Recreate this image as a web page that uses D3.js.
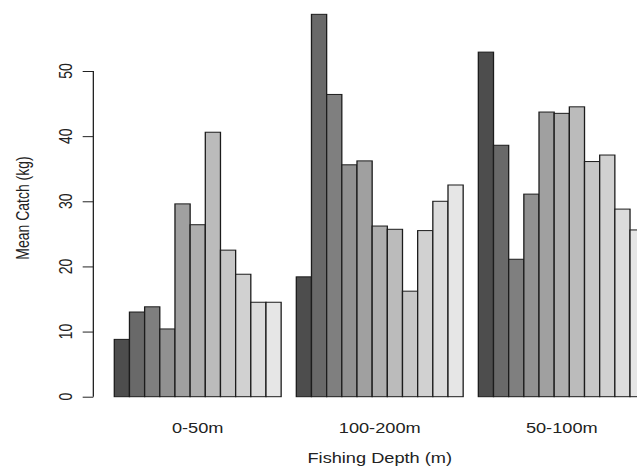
<!DOCTYPE html>
<html>
<head>
<meta charset="utf-8">
<script src="https://cdn.jsdelivr.net/npm/d3@7"></script>
<style>
  html, body { margin: 0; padding: 0; background: #fff; }
  svg { display: block; }
  text { font-family: "Liberation Sans", Arial, sans-serif; fill: #222; }
</style>
</head>
<body>
<div id="chart"></div>
<script>
// Fishing depth groups, in the order they are plotted
const depthGroups = ["0-50m", "100-200m", "50-100m"];

// Mean catch (kg) for the 11 bars inside each depth group
const catch0to50   = [8.8, 13.0, 13.8, 10.4, 29.6, 26.4, 40.6, 22.5, 18.8, 14.5, 14.5];
const catch100to200 = [18.4, 58.7, 46.4, 35.6, 36.2, 26.2, 25.7, 16.2, 25.5, 30.0, 32.5];
const catch50to100 = [52.9, 38.6, 21.1, 31.1, 43.7, 43.5, 44.5, 36.1, 37.1, 28.8, 25.6];

const yTicks = [0, 10, 20, 30, 40, 50];

const groupValues = [catch0to50, catch100to200, catch50to100];
const nBars = catch0to50.length;

// Drawing surface: a 490-unit-wide coordinate space stretched to 637px
const W = 637, H = 467, VW = 490;
const svg = d3.select("#chart").append("svg")
  .attr("width", W).attr("height", H)
  .attr("viewBox", `0 0 ${VW} ${H}`)
  .attr("preserveAspectRatio", "none");

// Bar slots: each group has one empty slot before its bars
const slotsPerGroup = nBars + 1;
const x = d3.scaleLinear().domain([1, 36]).range([87.92, 496.3]);
const unit = x(2) - x(1);
const y = d3.scaleLinear().domain([0, 50]).range([396.7, 71]);

// Grey ramp from dark to light (gamma-corrected)
const gamma = 2.2, gStart = 0.3, gEnd = 0.9;
const greys = d3.range(nBars).map(i => {
  const a = Math.pow(gStart, gamma), b = Math.pow(gEnd, gamma);
  const v = Math.pow(a + (b - a) * i / (nBars - 1), 1 / gamma);
  const c = Math.round(v * 255);
  return `rgb(${c},${c},${c})`;
});

const bars = [];
groupValues.forEach((vals, g) => {
  vals.forEach((v, i) => bars.push({ g, i, v, pos: g * slotsPerGroup + 1 + i }));
});

svg.append("g").selectAll("rect").data(bars).join("rect")
  .attr("x", d => x(d.pos))
  .attr("width", unit)
  .attr("y", d => y(d.v))
  .attr("height", d => y(0) - y(d.v))
  .attr("fill", d => greys[d.i])
  .attr("stroke", "#1c1c1c")
  .attr("stroke-width", 1);

// Y axis with labels parallel to the axis
const axisX = 71.8;
const yAxis = d3.axisLeft(y).tickValues(yTicks).tickSize(8.2).tickFormat("");
const ya = svg.append("g").attr("transform", `translate(${axisX},0)`).call(yAxis);
ya.select(".domain").attr("stroke", "#222").attr("d", `M0,${y(0)}V${y(50)}`);
ya.selectAll(".tick line").attr("stroke", "#222");

svg.append("g").selectAll("text").data(yTicks).join("text")
  .attr("transform", d => `translate(55.2,${y(d)}) rotate(-90)`)
  .attr("text-anchor", "middle")
  .style("font-size", "14px")
  .text(d => d);

// Group labels under each cluster
svg.append("g").selectAll("text").data(depthGroups).join("text")
  .attr("x", (d, g) => x(g * slotsPerGroup + 1) + unit * nBars / 2)
  .attr("y", 432.8)
  .attr("text-anchor", "middle")
  .style("font-size", "14px")
  .text(d => d);

// Axis titles, centred on the plotting region
svg.append("text")
  .attr("x", x(18.5))
  .attr("y", 463.3)
  .attr("text-anchor", "middle")
  .style("font-size", "14px")
  .text("Fishing Depth (m)");

svg.append("text")
  .attr("transform", `translate(22,208) rotate(-90)`)
  .attr("text-anchor", "middle")
  .style("font-size", "14px")
  .text("Mean Catch (kg)");
</script>
</body>
</html>
